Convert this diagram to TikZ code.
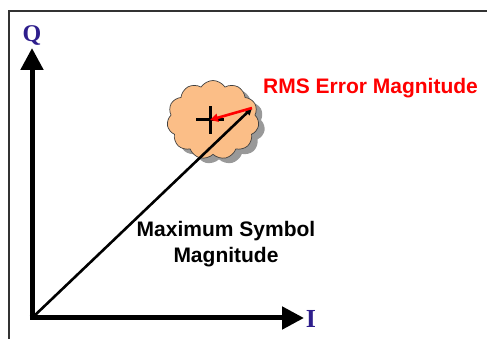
\documentclass[tikz,border=0pt]{standalone}
\usepackage{fontspec}
\setmainfont{Liberation Sans}
\newfontfamily\serifb{Liberation Serif}
\usetikzlibrary{arrows.meta,shapes.symbols,calc}
\definecolor{axislbl}{RGB}{46,30,140}
\definecolor{cloudfill}{RGB}{251,190,135}
\begin{document}
\begin{tikzpicture}[x=1pt,y=1pt,
  axis/.style={line width=5pt,-{Triangle[length=22pt,width=22pt]}},
  axlabel/.style={font=\serifb\bfseries,text=axislbl,inner sep=0pt},
  lbl/.style={font=\bfseries\fontsize{21}{26}\selectfont,align=center,inner sep=0pt},
  cloudshape/.style={cloud, cloud puffs=11, cloud puff arc=115, aspect=1.2, minimum width=92pt, minimum height=79pt}]
\useasboundingbox (0,0) rectangle (487,339);
\draw[line width=1.4pt,black!80] (9,0) -- (9,328) -- (487,328);
\coordinate (O) at (32,21);
\coordinate (Qtip) at (32,291);
\coordinate (Itip) at (304,21);
\node[axlabel,font=\serifb\bfseries\fontsize{24}{24}\selectfont] (Q) at (32,303) {Q};
\node[axlabel,font=\serifb\bfseries\fontsize{26}{26}\selectfont] (I) at (311,20) {I};
\node[cloudshape, fill=black!40] (sh) at (219,214) {};
\node[cloudshape, draw=black!75, line width=0.7pt, fill=cloudfill] (cl) at (213,219) {};
\coordinate (P) at (210,219);
\draw[line width=3pt] ($(P)+(-14,0)$) -- ($(P)+(14,0)$);
\draw[line width=3pt] ($(P)+(0,-14)$) -- ($(P)+(0,14)$);
\coordinate (V) at (252,231);
\draw[line width=2.6pt,-{Triangle[length=7pt,width=7pt]}] (O) -- (V);
\draw[line width=2.6pt,red,-{Triangle[length=8pt,width=8pt]}] (V) -- (P);
\draw[axis] (O) -- (Qtip);
\draw[axis] ($(O)+(-2.5,0)$) -- (Itip);
\node[lbl,text=red,anchor=west] (rms) at (263,251) {RMS Error Magnitude};
\node[lbl] (msm) at (226,95) {Maximum Symbol\\Magnitude};
\end{tikzpicture}
\end{document}
